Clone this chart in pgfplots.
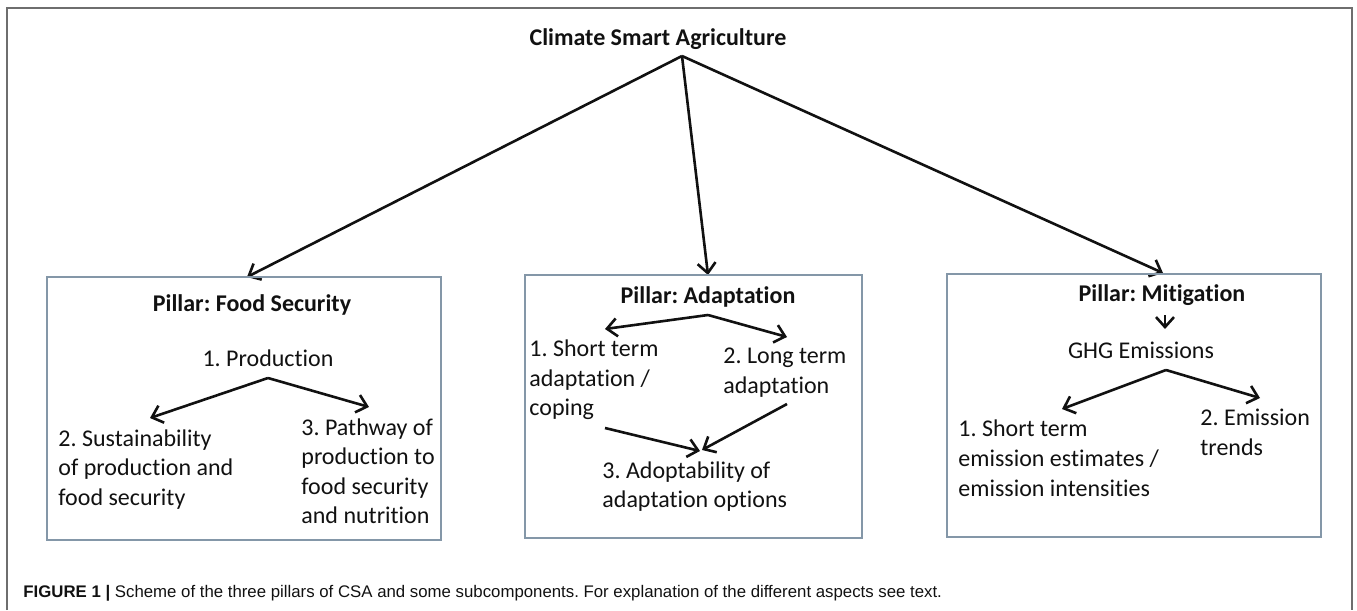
\documentclass[border=0pt]{standalone}
\usepackage{fontspec}
\setmainfont{Carlito}[Ligatures={NoCommon}]
\newfontfamily\capfont{Liberation Sans}
\usepackage{pgfplots}
\pgfplotsset{compat=1.18}
\usetikzlibrary{arrows.meta}
\frenchspacing
\definecolor{boxc}{HTML}{8497A8}
\definecolor{framec}{HTML}{6E6E6E}
\definecolor{txt}{HTML}{111111}
\newcommand{\fs}{\fontsize{12pt}{14.75pt}\selectfont}
\newcommand{\Lw}[3]{\node[anchor=base west,inner sep=0pt,font=\fs,text=txt] at (axis cs:#1,#2) {#3};}
\newcommand{\Lc}[3]{\node[anchor=base,inner sep=0pt,font=\fs,text=txt] at (axis cs:#1,#2) {#3};}
\newcommand{\Lb}[3]{\node[anchor=base,inner sep=0pt,font=\fs\bfseries,text=txt] at (axis cs:#1,#2) {#3};}
\newcommand{\Ar}[4]{\draw[line width=1.3pt,txt,-{Straight Barb[length=5pt,width=9pt]}] (axis cs:#1,#2) -- (axis cs:#3,#4);}
\begin{document}
\begin{tikzpicture}
\begin{axis}[at={(0,0)},anchor=south west,scale only axis,
  width=678.5pt,height=305pt,xmin=0,xmax=1357,ymin=0,ymax=610,
  y dir=reverse,hide axis,clip=false]
% bounding region
\path (axis cs:0,0) rectangle (axis cs:1357,610);
% outer frame
\draw[framec,line width=0.8pt] (axis cs:7,610) -- (axis cs:7,8) -- (axis cs:1352,8) -- (axis cs:1352,610);
% title
\Lb{658}{45}{Climate Smart Agriculture}
% main arrows
\Ar{682}{56}{247}{277}
\Ar{682}{56}{708}{275}
\Ar{682}{56}{1163}{273}
% boxes
\draw[boxc,line width=0.75pt] (axis cs:47,277) rectangle (axis cs:441,540);
\draw[boxc,line width=0.75pt] (axis cs:525,275) rectangle (axis cs:862,538);
\draw[boxc,line width=0.75pt] (axis cs:947,274) rectangle (axis cs:1321,537);
% box 1
\Lb{252}{311}{Pillar: Food Security}
\Lc{268}{366}{1. Production}
\Ar{268}{378}{150}{418}
\Ar{268}{378}{369}{407}
\Lw{58}{446}{2. Sustainability}
\Lw{58}{475}{of production and}
\Lw{58}{505}{food security}
\Lw{301}{435}{3. Pathway of}
\Lw{301}{464}{production to}
\Lw{301}{494}{food security}
\Lw{301}{523}{and nutrition}
% box 2
\Lb{708}{303}{Pillar: Adaptation}
\Ar{708}{315}{605}{329}
\Ar{708}{315}{787}{337}
\Lw{529}{356}{1. Short term}
\Lw{529}{386}{adaptation /}
\Lw{529}{415}{coping}
\Lw{723}{363}{2. Long term}
\Lw{723}{393}{adaptation}
\Ar{605}{428}{700}{451}
\Ar{787}{404}{702}{450}
\Lw{602}{478}{3. Adoptability of}
\Lw{602}{507}{adaptation options}
% box 3
\Lb{1162}{301}{Pillar: Mitigation}
\Ar{1165}{315}{1165}{329}
\Lc{1141}{358}{GHG Emissions}
\Ar{1166}{370}{1062}{409}
\Ar{1166}{370}{1260}{398}
\Lw{958}{436}{1. Short term}
\Lw{958}{466}{emission estimates /}
\Lw{958}{496}{emission intensities}
\Lw{1200}{425}{2. Emission}
\Lw{1200}{455}{trends}
% caption
\node[anchor=base west,inner sep=0pt,font=\capfont\fontsize{8.4pt}{10pt}\selectfont,text=txt] at (axis cs:23,597)
  {\textbf{FIGURE 1 |} Scheme of the three pillars of CSA and some subcomponents. For explanation of the different aspects see text.};
\end{axis}
\end{tikzpicture}
\end{document}
